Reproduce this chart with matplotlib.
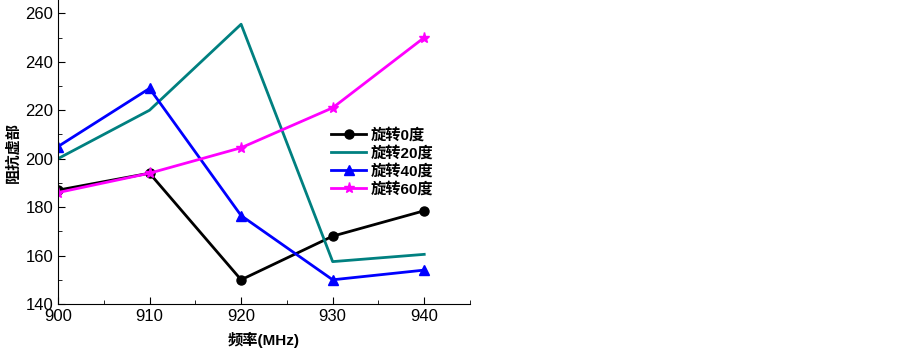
import matplotlib
matplotlib.use('Agg')
import matplotlib.pyplot as plt
from matplotlib.ticker import MultipleLocator

plt.rcParams['font.family'] = ['Liberation Sans', 'Noto Sans CJK SC']

freq = [900, 910, 920, 930, 940]
rot0 = [187, 194, 150, 168, 178.5]
rot20 = [200, 220, 255.5, 157.5, 160.5]
rot40 = [205, 229, 176.5, 150, 154]
rot60 = [186, 194, 204.5, 221, 250]
labels = ['旋转0度', '旋转20度', '旋转40度', '旋转60度']

fig = plt.figure(figsize=(9.03, 3.5), dpi=100)
ax = fig.add_axes([0.0642, 0.1314, 0.4563, 0.8686])

ax.plot(freq, rot0, color='black', lw=2, marker='o', ms=6.5, label=labels[0])
ax.plot(freq, rot20, color='#008080', lw=2, label=labels[1])
ax.plot(freq, rot40, color='#0000FF', lw=2, marker='^', ms=7, label=labels[2])
ax.plot(freq, rot60, color='#FF00FF', lw=2, marker='*', ms=8, label=labels[3])

ax.set_xlim(900, 945)
ax.set_ylim(140, 265.5)
ax.set_xticks(freq)
ax.set_yticks(range(140, 261, 20))
ax.xaxis.set_minor_locator(MultipleLocator(5))
ax.yaxis.set_minor_locator(MultipleLocator(10))
ax.tick_params(which='both', direction='in', labelsize=12)
ax.tick_params(which='major', length=5)
ax.tick_params(which='minor', length=3)
ax.spines['top'].set_visible(False)
ax.spines['right'].set_visible(False)

ax.set_xlabel('频率(MHz)', fontsize=11, fontweight='bold', labelpad=6)
ax.set_ylabel('阻抗虚部', fontsize=11, fontweight='bold', labelpad=3)

leg = ax.legend(loc='upper left', bbox_to_anchor=(0.63, 0.625), frameon=False,
                prop={'size': 11, 'weight': 'bold'}, handlelength=2.3,
                labelspacing=0.2, handletextpad=0.25)

fig.savefig('out.png', dpi=100)
